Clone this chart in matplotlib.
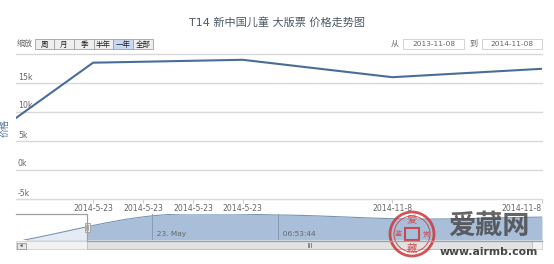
import numpy as np
import matplotlib
matplotlib.use('Agg')
import matplotlib.pyplot as plt
import matplotlib.transforms as mtransforms
from matplotlib.patches import Rectangle, Circle, Polygon

plt.rcParams['font.family'] = ['DejaVu Sans', 'Noto Sans CJK SC']

W, H = 554, 264

# ---- data (ordinal axis, one slot per price record) ----
ords = [0, 1, 2, 3, 4]
prices = [0, 18500, 19000, 16000, 17450]
x_ticks = [1, 1.333, 1.667, 2, 3, 4]
x_labels = ['2014-5-23', '2014-5-23', '2014-5-23', '2014-5-23', '2014-11-8', '2014-11-8']
y_ticks = [-5000, 0, 5000, 10000, 15000, 20000]
y_labels = ['-5k', '0k', '5k', '10k', '15k', '']
nav_ticks = [0.99, 1.96]
nav_labels = ['23. May', '06:53:44']
view = (0.485, 4.0)
nav_view = (-0.063, 4.0)
buttons = ['周', '月', '季', '半年', '一年', '全部']
date_from, date_to = '2013-11-08', '2014-11-08'
title = 'T14 新中国儿童 大版票 价格走势图'


def ax_px(fig, l, t, r, b):
    return fig.add_axes([l / W, 1 - b / H, (r - l) / W, (b - t) / H])


def smooth(xs, ys, n=30):
    # cubic hermite curve, like the spline of the navigator
    xs = np.asarray(xs, float)
    ys = np.asarray(ys, float)
    m = np.zeros_like(ys)
    m[0] = (ys[1] - ys[0]) / (xs[1] - xs[0])
    m[-1] = (ys[-1] - ys[-2]) / (xs[-1] - xs[-2])
    m[1:-1] = (ys[2:] - ys[:-2]) / (xs[2:] - xs[:-2])
    outx, outy = [], []
    for i in range(len(xs) - 1):
        h = xs[i + 1] - xs[i]
        t = np.linspace(0, 1, n)
        h00 = 2 * t**3 - 3 * t**2 + 1
        h10 = t**3 - 2 * t**2 + t
        h01 = -2 * t**3 + 3 * t**2
        h11 = t**3 - t**2
        outx.append(xs[i] + t * h)
        outy.append(h00 * ys[i] + h10 * h * m[i] + h01 * ys[i + 1] + h11 * h * m[i + 1])
    return np.concatenate(outx), np.concatenate(outy)


fig = plt.figure(figsize=(W / 100, H / 100), dpi=100)

# ---- main plot ----
ax = ax_px(fig, 16, 54, 542, 199)
ax.plot(ords, prices, color='#4a6d98', lw=1.5)
ax.set_xlim(*view)
ax.set_ylim(-5000, 20000)
for s in ax.spines.values():
    s.set_visible(False)
ax.set_yticks(y_ticks)
ax.yaxis.grid(True, color='#d9d9d9', lw=1)
for gl in ax.get_ygridlines():
    gl.set_clip_on(False)
ax.tick_params(axis='y', length=0, labelleft=False)
ax.set_xticks(x_ticks, x_labels)
ax.tick_params(axis='x', length=3, color='#c0d0e0', labelsize=5.6,
               labelcolor='#666666', pad=0.5)
ax.get_xticklabels()[-1].set_ha('right')
lab_tr = mtransforms.offset_copy(ax.get_yaxis_transform(), fig=fig, x=0, y=1.5, units='dots')
for v, t in zip(y_ticks, y_labels):
    ax.text(2 / 526, v, t, transform=lab_tr, fontsize=5.6, color='#666666',
            ha='left', va='bottom')

fig.text(5 / W, 1 - 128 / H, '价格', rotation=90, ha='center', va='center',
         fontsize=6.5, color='#4d759e')
fig.text(277 / W, 1 - 22 / H, title, ha='center', va='center',
         fontsize=8, color='#4d5966')

# ---- navigator ----
nav = ax_px(fig, 16, 214, 542, 240)
sx, sy = smooth(ords, prices)
nav.fill_between(sx, sy, 0, color='#a9bfd9', lw=0)
nav.plot(sx, sy, color='#7893b6', lw=0.8)
nav.set_xlim(*nav_view)
nav.set_ylim(0, 19800)
nav.axvspan(nav_view[0], view[0], color='white', alpha=0.7, lw=0)
for t, lab in zip(nav_ticks, nav_labels):
    nav.axvline(t, color='#8a9bb0', lw=0.7)
    nav.text(t, 0.1, '  ' + lab, transform=nav.get_xaxis_transform(),
             fontsize=5.3, color='#666666', ha='left', va='bottom')
nav.set_xticks([])
nav.set_yticks([])
for s in nav.spines.values():
    s.set_visible(False)

# ---- overlay: range selector, scrollbar, watermark ----
ov = fig.add_axes([0, 0, 1, 1])
ov.set_xlim(0, W)
ov.set_ylim(H, 0)
ov.axis('off')
ov.set_zorder(5)

ov.text(17, 43, '缩放', fontsize=5.8, color='#666666', ha='left', va='center')
edges = [35, 54, 74, 94, 113, 133, 153]
for i, lab in enumerate(buttons):
    fc = '#c6d9f1' if lab == '一年' else '#eeeeee'
    ov.add_patch(Rectangle((edges[i], 39), edges[i + 1] - edges[i], 10,
                           fc=fc, ec='#a0a0a0', lw=0.6))
    ov.text((edges[i] + edges[i + 1]) / 2, 44, lab, fontsize=5.4, color='#222222',
            ha='center', va='center')

ov.text(395, 43.5, '从', fontsize=5.8, color='#666666', ha='center', va='center')
ov.add_patch(Rectangle((403, 39), 61, 10, fc='white', ec='#cccccc', lw=0.6))
ov.text(433.5, 44, date_from, fontsize=5.3, color='#666666', ha='center', va='center')
ov.text(473, 43.5, '到', fontsize=5.8, color='#666666', ha='center', va='center')
ov.add_patch(Rectangle((482, 39), 60, 10, fc='white', ec='#cccccc', lw=0.6))
ov.text(512, 44, date_to, fontsize=5.3, color='#666666', ha='center', va='center')

# navigator outline and handle
ov.plot([16, 87, 87, 542], [214, 214, 240.5, 240.5], color='#a0a0a0', lw=0.9)
ov.add_patch(Rectangle((84.5, 223), 5, 9, fc='#ebe7e8', ec='#a8a8a8', lw=0.7))
ov.plot([86.3, 86.3], [225, 230], color='#999999', lw=0.5)
ov.plot([87.7, 87.7], [225, 230], color='#999999', lw=0.5)

# scrollbar
ov.add_patch(Rectangle((16, 241), 526, 8, fc='#f2f2f2', ec='#d0d0d0', lw=0.6))
ov.add_patch(Rectangle((87, 241), 445, 8, fc='#e2e2e2', ec='#bbbbbb', lw=0.6))
ov.add_patch(Rectangle((17, 242.5), 8.5, 6, fc='#e6e6e6', ec='#999999', lw=0.6))
ov.add_patch(Polygon([(19.8, 245.5), (22.6, 243.9), (22.6, 247.1)], closed=True,
                     fc='#555555', lw=0))
for gx in (307.5, 309, 310.5):
    ov.plot([gx, gx], [243.3, 246.7], color='#777777', lw=0.6)

# watermark
red = '#c9373a'
ov.add_patch(Circle((412, 234), 22, fill=False, ec=red, lw=2, alpha=0.85))
ov.add_patch(Circle((412, 234), 18, fill=False, ec=red, lw=0.7, alpha=0.85))
ov.add_patch(Rectangle((405, 228), 14, 12, fill=False, ec=red, lw=1.5, alpha=0.85))
ov.text(412, 220, '爱', fontsize=7.5, color=red, ha='center', va='center', alpha=0.85)
ov.text(412, 249, '藏', fontsize=7.5, color=red, ha='center', va='center', alpha=0.85)
ov.text(398, 234, '鉴', fontsize=5, color=red, ha='center', va='center', alpha=0.85)
ov.text(426, 234, '赏', fontsize=5, color=red, ha='center', va='center', alpha=0.85)
ov.text(489, 227, '爱藏网', fontsize=19.5, fontweight='bold', color='#4a4a4a',
        ha='center', va='center', alpha=0.85)
ov.text(489, 252, 'www.airmb.com', fontsize=7.8, fontweight='bold', color='#333333',
        ha='center', va='center', alpha=0.9)

fig.savefig('out.png', dpi=100)
